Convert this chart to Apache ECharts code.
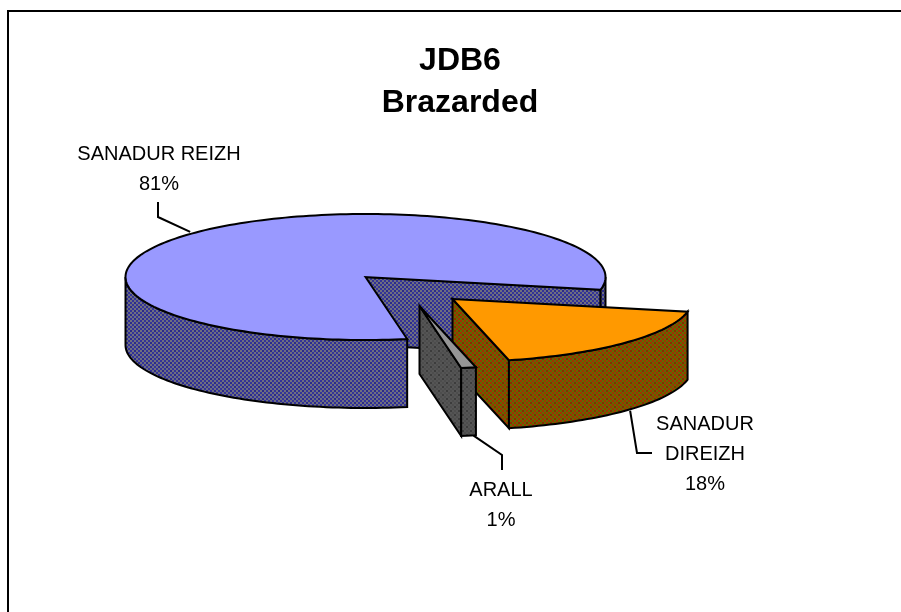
<!DOCTYPE html>
<html>
<head>
<meta charset="utf-8">
<style>html,body{margin:0;padding:0;background:#fff}#c{width:901px;height:612px}</style>
<script src="https://cdn.jsdelivr.net/npm/echarts@6/dist/echarts.min.js"></script>
</head>
<body>
<div id="c"></div>
<script>
var titleLines = ['JDB6', 'Brazarded'];
var categories = ['SANADUR REIZH', 'SANADUR DIREIZH', 'ARALL'];
var values = [81, 18, 1];
var labelLines = [['SANADUR REIZH'], ['SANADUR', 'DIREIZH'], ['ARALL']];

// layout and style
var CX = 365.5, CY = 277, RX = 240, RY = 63, DEPTH = 68, START = 80;
var explode = [[0, 0], [87, 22], [54, 29]];
var topColors = ['#9999ff', '#ff9900', '#969696'];
var labelPos = [[159, 154], [705, 424], [501, 490]];
var LINE_H = 30;
// leader: offset of anchor from the arc mid-point, then elbow and end relative to label centre
var leaders = [
  {rim: 0, anchor: [-8, 0], elbow: [-1, 63], end: [-1, 48]},
  {rim: 1, anchor: [5, 0], elbow: [-68, 29], end: [-53, 29]},
  {rim: 1, anchor: [5, 0], elbow: [1, -35], end: [1, -20]}
];

function pattern(a, b, c) {
  var cv = document.createElement('canvas');
  cv.width = cv.height = 8;
  var g = cv.getContext('2d');
  for (var y = 0; y < 8; y += 2) for (var x = 0; x < 8; x += 2) {
    g.fillStyle = ((x + y) / 2) % 2 ? b : a;
    g.fillRect(x, y, 2, 2);
  }
  g.fillStyle = c;
  g.fillRect(2, 2, 2, 2);
  g.fillRect(6, 6, 2, 2);
  return {image: cv, repeat: 'repeat'};
}
var wallFills = [
  pattern('#333399', '#6e6e80', '#2a2a8a'),
  pattern('#a03200', '#5f6a00', '#8a2a00'),
  pattern('#4d4d4d', '#555555', '#3c3c3c')
];

function pt(ox, oy, deg, dz) {
  var r = deg * Math.PI / 180;
  return [ox + RX * Math.cos(r), oy + RY * Math.sin(r) + (dz || 0)];
}
function arc(ox, oy, a0, a1, dz) {
  var pts = [], n = Math.max(2, Math.ceil(Math.abs(a1 - a0) / 1.5));
  for (var i = 0; i <= n; i++) pts.push(pt(ox, oy, a0 + (a1 - a0) * i / n, dz));
  return pts;
}
var total = values.reduce(function (s, v) { return s + v; }, 0);

function renderItem(params, api) {
  var i = params.dataIndex, v = api.value(0), before = 0;
  for (var k = 0; k < i; k++) before += values[k];
  var a0 = START + before / total * 360, a1 = a0 + v / total * 360;
  var ox = CX + explode[i][0], oy = CY + explode[i][1];
  var kids = [];
  function poly(points, fill) {
    kids.push({type: 'polygon', shape: {points: points}, silent: true,
      style: {fill: fill, stroke: '#000', lineWidth: 2, lineJoin: 'miter'}});
  }
  // cut face that looks toward the viewer
  if (Math.cos(a1 * Math.PI / 180) > 0) {
    var e = pt(ox, oy, a1);
    poly([[ox, oy], e, [e[0], e[1] + DEPTH], [ox, oy + DEPTH]], wallFills[i]);
  }
  // outer wall, front half of the ellipse only
  [720, 360, 0].forEach(function (base) {
    var s = Math.max(a0, base), t = Math.min(a1, base + 180);
    if (t > s) poly(arc(ox, oy, s, t).concat(arc(ox, oy, t, s, DEPTH)), wallFills[i]);
  });
  // top face
  poly([[ox, oy]].concat(arc(ox, oy, a0, a1)), topColors[i]);

  // leader
  var mid = (a0 + a1) / 2, L = leaders[i], lp = labelPos[i];
  var m = pt(ox, oy, mid, L.rim ? DEPTH : 0);
  kids.push({type: 'polyline', silent: true,
    shape: {points: [[m[0] + L.anchor[0], m[1] + L.anchor[1]],
      [lp[0] + L.elbow[0], lp[1] + L.elbow[1]], [lp[0] + L.end[0], lp[1] + L.end[1]]]},
    style: {fill: null, stroke: '#000', lineWidth: 2}});

  // label
  var lines = labelLines[i].concat([Math.round(v / total * 100) + '%']);
  lines.forEach(function (txt, n) {
    kids.push({type: 'text', silent: true, style: {
      x: lp[0], y: lp[1] + n * LINE_H, text: txt, align: 'center', verticalAlign: 'middle',
      fill: '#000', font: '20px "Liberation Sans", Arial, sans-serif'}});
  });
  return {type: 'group', children: kids};
}

var chart = echarts.init(document.getElementById('c'), null, {renderer: 'canvas'});
chart.setOption({
  animation: false,
  backgroundColor: '#fff',
  title: {
    text: titleLines.join('\n'), left: 455, top: 35, textAlign: 'center',
    textStyle: {fontFamily: '"Liberation Sans", Arial, sans-serif', fontWeight: 'bold',
      fontSize: 32, lineHeight: 42, color: '#000'}
  },
  graphic: [{type: 'polyline', silent: true,
    shape: {points: [[8, 612], [8, 11], [901, 11]]},
    style: {fill: null, stroke: '#000', lineWidth: 2}}],
  series: [{
    type: 'custom', coordinateSystem: 'none', renderItem: renderItem, silent: true,
    data: values.map(function (v, i) { return {name: categories[i], value: [v]}; })
  }]
});
</script>
</body>
</html>
